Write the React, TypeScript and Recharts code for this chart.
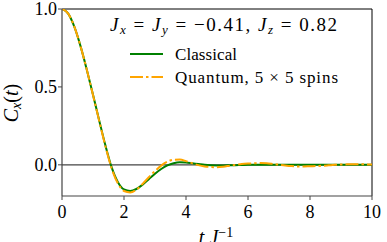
import React from 'react';
import { LineChart, Line, XAxis, YAxis, ReferenceLine } from 'recharts';

const timeValues = [0, 0.2, 0.4, 0.6, 0.8, 1.0, 1.2, 1.4, 1.6, 1.8, 2.0, 2.2, 2.4, 2.6, 2.8, 3.0, 3.2, 3.4, 3.6, 3.8, 4.0, 4.2, 4.4, 4.6, 4.8, 5.0, 5.2, 5.4, 5.6, 5.8, 6.0, 6.2, 6.4, 6.6, 6.8, 7.0, 7.2, 7.4, 7.6, 7.8, 8.0, 8.2, 8.4, 8.6, 8.8, 9.0, 9.2, 9.4, 9.6, 9.8, 10.0];
const classicalValues = [1.0, 0.97, 0.885, 0.76, 0.61, 0.45, 0.285, 0.125, -0.015, -0.11, -0.158, -0.168, -0.155, -0.127, -0.092, -0.057, -0.027, -0.004, 0.01, 0.016, 0.015, 0.01, 0.005, 0.0, -0.003, -0.004, -0.004, -0.003, -0.002, -0.001, 0.0, 0.0, 0.001, 0.001, 0.001, 0.0, 0.0, 0.0, 0.0, 0.0, 0.0, 0.0, 0.0, 0.0, 0.0, 0.0, 0.0, 0.0, 0.0, 0.0, 0.0];
const quantumValues = [1.0, 0.97, 0.885, 0.76, 0.61, 0.448, 0.282, 0.12, -0.022, -0.118, -0.168, -0.177, -0.16, -0.122, -0.08, -0.04, -0.005, 0.02, 0.033, 0.034, 0.024, 0.01, -0.002, -0.01, -0.014, -0.015, -0.012, -0.006, 0.0, 0.005, 0.008, 0.01, 0.011, 0.01, 0.006, 0.001, -0.004, -0.008, -0.01, -0.01, -0.009, -0.008, -0.006, -0.003, 0.0, 0.002, 0.003, 0.004, 0.004, 0.003, 0.002];
const xTicks = [0, 2, 4, 6, 8, 10];
const yTicks = [0, 0.5, 1.0];
const yTickLabels = ['0.0', '0.5', '1.0'];
const seriesNames = ['Classical', 'Quantum, 5 × 5 spins'];

const data = timeValues.map((t, i) => ({ t, classical: classicalValues[i], quantum: quantumValues[i] }));

const FONT = 'Liberation Serif';
const GREEN = '#008000';
const ORANGE = '#FFA500';
const DASH = '13 3 2.5 3';
const CSS = "html body #root div svg text, html body #root div svg tspan { font-family: 'Liberation Serif', serif !important; }";

const XTick = (props: any) => {
  const { x, y, payload } = props;
  return (
    <text x={x} y={y + 18} textAnchor="middle" fontSize={18} fontFamily={FONT} fill="#000">
      {String(payload.value)}
    </text>
  );
};

const YTick = (props: any) => {
  const { x, y, payload } = props;
  const idx = yTicks.indexOf(payload.value);
  return (
    <text x={x - 1} y={y + 6} textAnchor="end" fontSize={18} fontFamily={FONT} fill="#000">
      {idx >= 0 ? yTickLabels[idx] : String(payload.value)}
    </text>
  );
};

export default function App() {
  return (
    <div style={{ position: 'fixed', left: 0, top: 0, width: 387, height: 242, background: '#fff' }}>
      <style>{CSS}</style>
      <LineChart width={387} height={242} data={data} margin={{ top: 9, right: 15, bottom: 0, left: 0 }} style={{ fontFamily: FONT }}>
        <XAxis
          dataKey="t"
          type="number"
          domain={[0, 10]}
          ticks={xTicks}
          tick={<XTick />}
          tickSize={4}
          tickMargin={0}
          height={46}
          stroke="#000"
          axisLine={{ stroke: '#444', strokeWidth: 1.2 }}
          tickLine={{ stroke: '#444' }}
          allowDataOverflow
        />
        <YAxis
          type="number"
          domain={[-0.2, 1.0]}
          ticks={yTicks}
          tick={<YTick />}
          tickSize={4}
          tickMargin={0}
          width={62}
          axisLine={{ stroke: '#444', strokeWidth: 1.2 }}
          tickLine={{ stroke: '#444' }}
          allowDataOverflow
        />
        <ReferenceLine y={1.0} stroke="#000" strokeWidth={1} />
        <ReferenceLine x={10} stroke="#000" strokeWidth={1} />
        <ReferenceLine y={0} stroke="#444" strokeWidth={1.2} />
        <Line type="monotone" dataKey="classical" name={seriesNames[0]} stroke={GREEN} strokeWidth={2} dot={false} isAnimationActive={false} />
        <Line type="monotone" dataKey="quantum" name={seriesNames[1]} stroke={ORANGE} strokeWidth={2} strokeDasharray={DASH} dot={false} isAnimationActive={false} />
      </LineChart>
      <svg width={387} height={242} style={{ position: 'absolute', left: 0, top: 0, pointerEvents: 'none' }}>
        <text x={110} y={31} fontSize={19} fontFamily={FONT} fill="#000" textLength={227} lengthAdjust="spacing">
          <tspan fontStyle="italic">J</tspan>
          <tspan fontStyle="italic" fontSize={13} dy={3}>x</tspan>
          <tspan dy={-3}>{' = '}</tspan>
          <tspan fontStyle="italic">J</tspan>
          <tspan fontStyle="italic" fontSize={13} dy={3}>y</tspan>
          <tspan dy={-3}>{' = −0.41, '}</tspan>
          <tspan fontStyle="italic">J</tspan>
          <tspan fontStyle="italic" fontSize={13} dy={3}>z</tspan>
          <tspan dy={-3}>{' = 0.82'}</tspan>
        </text>
        <line x1={130} x2={163} y1={54} y2={54} stroke={GREEN} strokeWidth={2} />
        <text x={175} y={60} fontSize={17} fontFamily={FONT} fill="#000" textLength={62} lengthAdjust="spacing">{seriesNames[0]}</text>
        <line x1={130} x2={163} y1={77} y2={77} stroke={ORANGE} strokeWidth={2} strokeDasharray={DASH} />
        <text x={175} y={83} fontSize={17} fontFamily={FONT} fill="#000" textLength={163} lengthAdjust="spacing">{seriesNames[1]}</text>
        <text transform="translate(18, 103) rotate(-90)" textAnchor="middle" fontSize={20} fontFamily={FONT} fill="#000">
          <tspan fontStyle="italic">C</tspan>
          <tspan fontStyle="italic" fontSize={14} dy={3}>x</tspan>
          <tspan dy={-3}>(</tspan>
          <tspan fontStyle="italic">t</tspan>
          <tspan>)</tspan>
        </text>
        <text x={216} y={244} textAnchor="middle" fontSize={20} fontFamily={FONT} fill="#000">
          <tspan fontStyle="italic">t</tspan>
          <tspan>{'  '}</tspan>
          <tspan fontStyle="italic">J</tspan>
          <tspan fontSize={14} dy={-7}>−1</tspan>
        </text>
      </svg>
    </div>
  );
}
